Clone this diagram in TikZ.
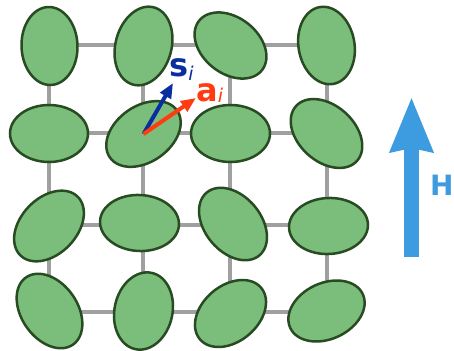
\documentclass[tikz,border=0pt]{standalone}
\usepackage{fontspec}
\setmainfont{DejaVu Sans}
\usetikzlibrary{shapes.geometric, arrows.meta}

\definecolor{spinfill}{HTML}{7BBE7B}
\definecolor{spinedge}{HTML}{284B23}
\definecolor{bondgray}{HTML}{A0A0A0}
\definecolor{sblue}{HTML}{0A2DA0}
\definecolor{ared}{HTML}{FF3B0F}
\definecolor{fieldblue}{HTML}{3D9BE0}

\begin{document}
\begin{tikzpicture}[x=1pt, y=-1pt,
    spin/.style={ellipse, draw=spinedge, line width=2.5pt, fill=spinfill,
                 inner sep=0pt, minimum width=80pt, minimum height=56pt},
    bond/.style={draw=bondgray, line width=4.5pt},
    vec/.style={line width=4pt, -{Triangle[length=15pt, width=12pt]}},
    field/.style={draw=fieldblue, line width=15.5pt,
                  -{Stealth[length=54pt, width=41pt, inset=3pt]}},
    lbl/.style={font=\bfseries\fontsize{32}{32}\selectfont, inner sep=0pt, anchor=base west}
]
    \useasboundingbox (0,0) rectangle (454,350);

    % --- Lattice points on the border ---
    \coordinate (p11) at (49,45);   \coordinate (p12) at (143,45);
    \coordinate (p13) at (230,45);  \coordinate (p14) at (327,45);
    \coordinate (p21) at (49,133);  \coordinate (p24) at (327,133);
    \coordinate (p31) at (49,225);  \coordinate (p34) at (327,225);
    \coordinate (p41) at (49,312);  \coordinate (p42) at (143,312);
    \coordinate (p43) at (230,312); \coordinate (p44) at (327,312);

    % --- Bonds ---
    \draw[bond] (p11) -- (p14);
    \draw[bond] (p21) -- (p24);
    \draw[bond] (p31) -- (p34);
    \draw[bond] (p41) -- (p44);
    \draw[bond] (p11) -- (p41);
    \draw[bond] (p12) -- (p42);
    \draw[bond] (p13) -- (p43);
    \draw[bond] (p14) -- (p44);

    % --- Spins (ellipses) ---
    \node[spin, minimum width=78pt, rotate=92]  (e11) at (49.5,46)    {};
    \node[spin, rotate=75]                      (e12) at (143.5,46)   {};
    \node[spin, rotate=-38]                     (e13) at (230.5,45.5) {};
    \node[spin, minimum width=78pt, rotate=100] (e14) at (326.5,45.5) {};

    \node[spin, minimum width=78pt, minimum height=57pt] (e21) at (49,133.5) {};
    \node[spin, minimum width=82pt, rotate=35]  (e22) at (143.5,134)  {};
    \node[spin, minimum width=79pt, minimum height=57pt] (e23) at (230.5,133.5) {};
    \node[spin, minimum width=82pt, rotate=-42] (e24) at (326.5,133.5) {};

    \node[spin, minimum width=82pt, rotate=46]  (e31) at (49,226)     {};
    \node[spin, minimum width=79pt, rotate=-3]  (e32) at (139.5,223)  {};
    \node[spin, minimum width=82pt, rotate=-50] (e33) at (233,224)    {};
    \node[spin, minimum width=79pt, rotate=3]   (e34) at (328.5,226)  {};

    \node[spin, minimum width=82pt, rotate=-55] (e41) at (49.5,311)   {};
    \node[spin, minimum width=78pt, minimum height=58pt, rotate=78] (e42) at (143.5,311) {};
    \node[spin, rotate=40]                      (e43) at (230.5,313.5) {};
    \node[spin, rotate=25]                      (e44) at (326.5,311)  {};

    % --- Spin and anisotropy vectors ---
    \coordinate (stip) at (173,83);
    \coordinate (atip) at (196,98);
    \draw[vec, sblue] (e22.center) -- (stip);
    \draw[vec, ared]  (e22.center) -- (atip);
    \node[lbl, sblue] (slbl) at (169,77)  {s\raisebox{-4pt}{\mdseries\itshape\fontsize{19}{19}\selectfont i}};
    \node[lbl, ared]  (albl) at (196,102) {a\raisebox{-1pt}{\mdseries\itshape\fontsize{19}{19}\selectfont i}};

    % --- External field ---
    \coordinate (hbot) at (411.5,257);
    \coordinate (htop) at (411.5,97);
    \draw[field] (hbot) -- (htop);
    \node[lbl, fieldblue, font=\bfseries\fontsize{28}{28}\selectfont] (hlbl) at (430,195) {H};
\end{tikzpicture}
\end{document}
